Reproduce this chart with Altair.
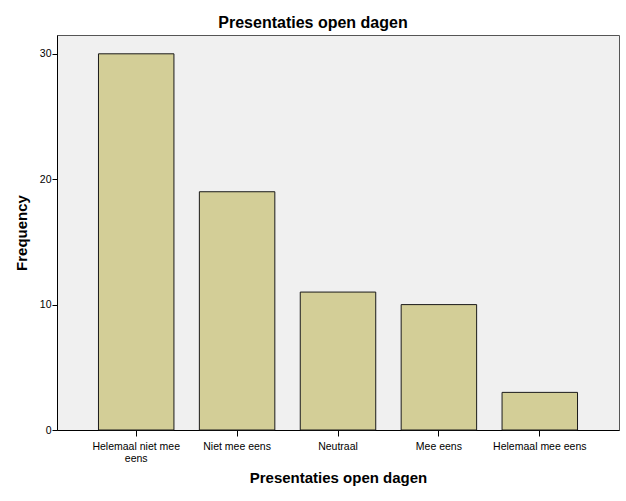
import altair as alt
import pandas as pd

categories = ["Helemaal niet mee eens", "Niet mee eens", "Neutraal", "Mee eens", "Helemaal mee eens"]
counts = [30, 19, 11, 10, 3]
y_ticks = [0, 10, 20, 30]

df = pd.DataFrame({"cat": categories, "freq": counts})

FONT = "Arial, Liberation Sans, sans-serif"

chart = alt.Chart(df).mark_bar(
    color="#D3CE97", stroke="#1a1a1a", strokeWidth=1
).encode(
    x=alt.X("cat:N", sort=categories,
            scale=alt.Scale(paddingInner=0.252, paddingOuter=0.411),
            axis=alt.Axis(
                title="Presentaties open dagen", labelAngle=0,
                labelFont=FONT, labelFontSize=10.5, labelColor="#000",
                labelPadding=5, tickSize=6, tickColor="#000", domainColor="#000",
                labelLineHeight=12,
                labelExpr="datum.value == 'Helemaal niet mee eens' ? ['Helemaal niet mee', 'eens'] : datum.value",
                titleFont=FONT, titleFontSize=15, titleFontWeight="bold", titleColor="#000",
                titleBaseline="alphabetic", titleY=52,
            )),
    y=alt.Y("freq:Q",
            scale=alt.Scale(domain=[0, 31.5], nice=False),
            axis=alt.Axis(
                title="Frequency", values=y_ticks, grid=False,
                labelFont=FONT, labelFontSize=10.5, labelColor="#000",
                labelPadding=1, tickSize=5, tickColor="#000", domainColor="#000",
                titleFont=FONT, titleFontSize=15, titleFontWeight="bold", titleColor="#000",
                titleAngle=270, titleX=-36, titleY=197.5, titleAlign="center", titleBaseline="middle",
            )),
).properties(
    width=562, height=395,
    title=alt.TitleParams("Presentaties open dagen", font=FONT, fontSize=16, fontWeight="bold",
                          color="#000", anchor="middle", dx=-25, dy=16, offset=7, baseline="alphabetic"),
    autosize=alt.AutoSizeParams(type="none"),
    padding={"left": 57, "top": 35, "right": 7, "bottom": 71},
).configure(
    background="white",
    view=alt.ViewConfig(fill="#F0F0F0", stroke="#555555", strokeWidth=1),
)

chart.save("out.html", embed_options={"renderer": "svg", "actions": False})
